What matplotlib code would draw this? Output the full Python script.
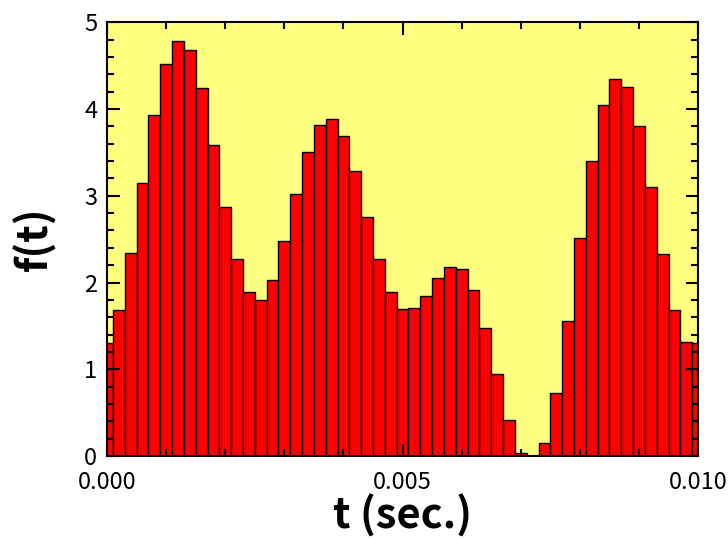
import numpy as np
import matplotlib
matplotlib.use("Agg")
from matplotlib import pyplot as plt
from matplotlib.ticker import MultipleLocator

plt.rcParams['font.family'] = ['Noto Sans CJK JP', 'DejaVu Sans']

# bar centres every 0.0002 s, from 0 to 0.010
t = np.arange(51) * 0.0002
f = [1.30, 1.68, 2.34, 3.15, 3.93, 4.52, 4.78, 4.68, 4.24, 3.59,
     2.87, 2.27, 1.89, 1.80, 2.03, 2.48, 3.02, 3.50, 3.82, 3.88,
     3.69, 3.28, 2.76, 2.27, 1.89, 1.70, 1.71, 1.85, 2.05, 2.18,
     2.15, 1.91, 1.48, 0.94, 0.41, 0.03, 0.005, 0.15, 0.73, 1.56,
     2.51, 3.40, 4.05, 4.35, 4.25, 3.80, 3.10, 2.33, 1.68, 1.31,
     1.30]

fig = plt.figure(figsize=(7.28, 5.41), dpi=100)
ax = fig.add_axes([0.147, 0.157, 0.812, 0.802])
ax.set_facecolor("#ffff80")

ax.bar(t, f, width=0.0002, color="#ff0000", edgecolor="black", linewidth=1.0)

ax.set_xlim(0, 0.010)
ax.set_ylim(0, 5)
ax.xaxis.set_major_locator(MultipleLocator(0.005))
ax.xaxis.set_minor_locator(MultipleLocator(0.001))
ax.yaxis.set_major_locator(MultipleLocator(1))
ax.yaxis.set_minor_locator(MultipleLocator(0.2))
ax.xaxis.set_major_formatter(plt.FormatStrFormatter("%.3f"))

ax.tick_params(which="both", direction="in", top=True, right=True, width=1.5)
ax.tick_params(which="major", length=9, labelsize=17)
ax.tick_params(which="minor", length=5)
ax.tick_params(axis="x", pad=11)
ax.tick_params(axis="y", pad=7)
for s in ax.spines.values():
    s.set_linewidth(1.5)

ax.set_xlabel("t (sec.)", fontsize=30, fontweight="bold", labelpad=0)
ax.set_ylabel("f(t)", fontsize=30, fontweight="bold", labelpad=20)

fig.savefig("out.png", dpi=100)
